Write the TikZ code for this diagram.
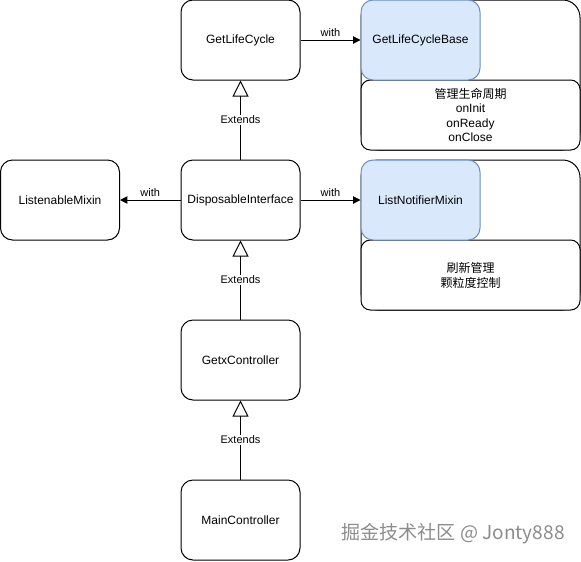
\documentclass[tikz,border=0pt]{standalone}
\usepackage{fontspec}
\setmainfont{Liberation Sans}
\newfontfamily\cjk{Noto Sans CJK SC}
\usetikzlibrary{arrows.meta}
\definecolor{bluefill}{HTML}{DAE8FC}
\definecolor{blueline}{HTML}{6C8EBF}
\definecolor{wmgray}{HTML}{8C8C8C}
\begin{document}
\begin{tikzpicture}[x=0.75pt,y=-0.75pt,line width=0.75pt,
  box/.style={draw,rounded corners=9pt,minimum width=89.25pt,minimum height=60pt,
    inner sep=0pt,font=\fontsize{9}{11}\selectfont,fill=white},
  bluebox/.style={box,fill=bluefill,draw=blueline},
  container/.style={draw,rounded corners=13pt,minimum width=164.25pt,minimum height=112.5pt,inner sep=0pt},
  subbox/.style={draw,rounded corners=7pt,minimum width=164.25pt,minimum height=52.5pt,inner sep=0pt,
    fill=white,align=center,font=\fontsize{9}{11}\selectfont},
  withlink/.style={-{Triangle[length=5.5pt,width=5.5pt]}},
  extlink/.style={-{Triangle[open,length=12pt,width=12pt,fill=white]}},
  lbl/.style={font=\fontsize{8.25}{10}\selectfont,inner sep=1pt},
  extlbl/.style={lbl,fill=white}]
\useasboundingbox (0,0) rectangle (581,561);
% top row
\node[box] (glc) at (240.5,40) {GetLifeCycle};
\node[container] (c1) at (470.5,75) {};
\node[subbox] (s1) at (470.5,115) {{\cjk 管理生命周期}\\[-0.3pt]onInit\\[-0.3pt]onReady\\[-0.3pt]onClose};
\node[bluebox] (glcb) at (420.5,40) {GetLifeCycleBase};
% second row
\node[box] (lm) at (60,200) {ListenableMixin};
\node[box] (di) at (240.5,200) {DisposableInterface};
\node[container] (c2) at (470.5,235) {};
\node[subbox] (s2) at (470.5,275) {{\cjk 刷新管理}\\[0.3pt]{\cjk 颗粒度控制}};
\node[bluebox] (lnm) at (420.5,200) {ListNotifierMixin};
% lower rows
\node[box] (gc) at (240.5,360) {GetxController};
\node[box] (mc) at (240.5,520) {MainController};
% connectors
\draw[withlink] (glc.east) -- node[lbl,above,yshift=1pt] {with} (glcb.west);
\draw[withlink] (di.west) -- node[lbl,above,yshift=1pt] {with} (lm.east);
\draw[withlink] (di.east) -- node[lbl,above,yshift=1pt] {with} (lnm.west);
\draw[extlink] (di.north) -- node[extlbl] {Extends} (glc.south);
\draw[extlink] (gc.north) -- node[extlbl] {Extends} (di.south);
\draw[extlink] (mc.north) -- node[extlbl] {Extends} (gc.south);
% watermark
\node[font=\cjk\fontsize{14.3}{17}\selectfont,text=wmgray,inner sep=0pt] (wm) at (453,534) {掘金技术社区 @ Jonty888};
\end{tikzpicture}
\end{document}
